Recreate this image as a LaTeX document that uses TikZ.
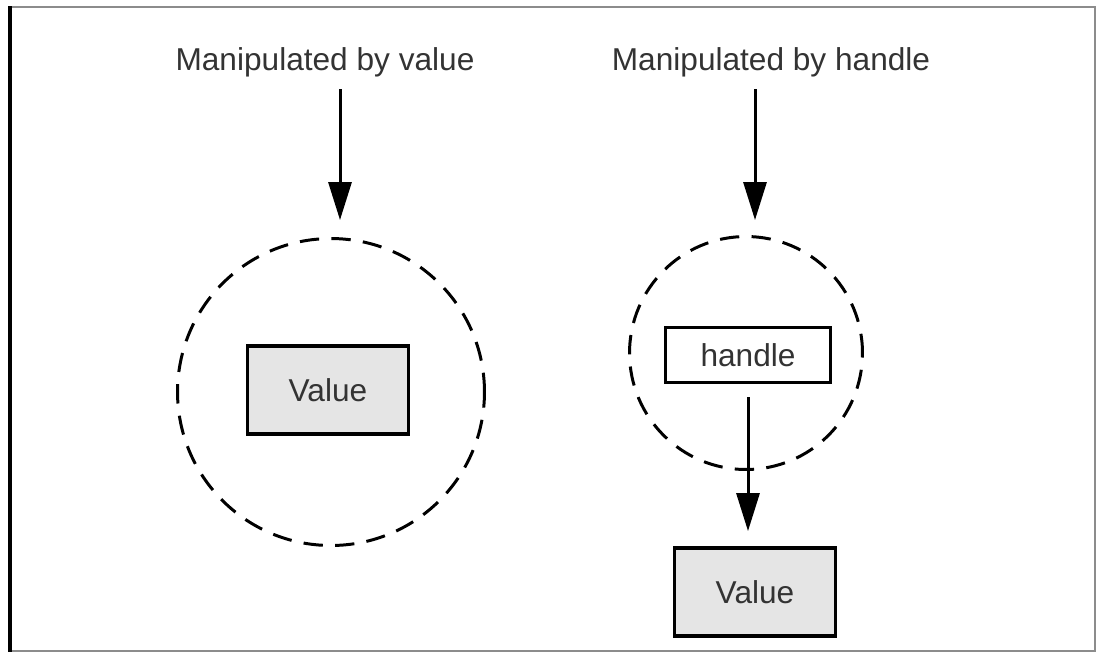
\documentclass[tikz,border=0pt]{standalone}
\usepackage{fontspec}
\setmainfont{Liberation Sans}
\usetikzlibrary{arrows.meta, calc}

\begin{document}
\begin{tikzpicture}[
  x=0.02cm, y=-0.02cm,
  txt/.style={font=\fontsize{18}{21}\selectfont, text=black!80, inner sep=0pt},
  scope/.style={draw, circle, line width=1.7pt, dash pattern=on 11pt off 7pt},
  box/.style={draw, line width=2.2pt, fill=black!10, minimum width=3.22cm, minimum height=1.76cm, font=\fontsize{18}{21}\selectfont, text=black!80},
  arr/.style={-{Triangle[length=7.6mm, width=4.6mm]}, line width=1.7pt}
]
\useasboundingbox (0,0) rectangle (1097,654);
% frame
\draw[black!45, line width=1pt] (10,7) -- (1095,7) -- (1095,651) -- (10,651);
\draw[black, line width=2.2pt] (10,6) -- (10,652);

% by value
\node[txt] (byvalue) at (325,62) {Manipulated by value};
\node[scope, minimum size=6.14cm] (valscope) at (331,392) {};
\node[box] (val1) at (328,390) {Value};

% by handle
\node[txt] (byhandle) at (771,62) {Manipulated by handle};
\node[scope, minimum size=4.66cm] (hdlscope) at (746,353) {};
\node[box, fill=white, minimum width=3.3cm, minimum height=1.1cm] (hdl) at (748,355) {handle};
\node[box] (val2) at (755,592) {Value};

\draw[arr] ($(byvalue.south)+(15,12)$) -- ($(valscope.north)+(9,-17)$);
\draw[arr] ($(byhandle.south)+(-16,12)$) -- ($(hdlscope.north)+(9,-15)$);
\draw[arr] ($(hdl.south)+(0,13)$) -- ($(hdl.south |- val2.north)+(0,-15)$);
\end{tikzpicture}
\end{document}
